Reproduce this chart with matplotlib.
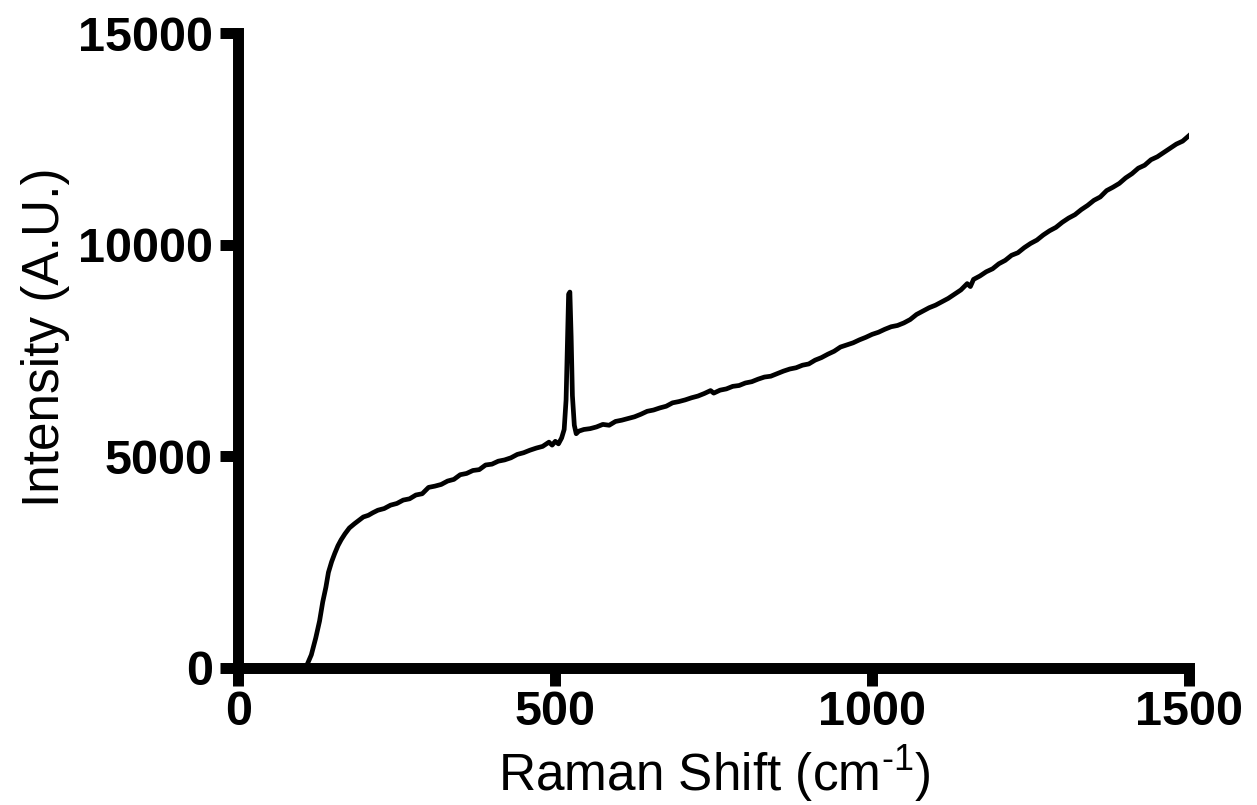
import matplotlib
matplotlib.use("Agg")
import matplotlib.pyplot as plt

# ラマンスペクトル
raman_shift = [
    100, 107, 115, 122, 128, 133, 138, 142, 147, 152, 157, 162, 168, 175, 183, 190,
    197, 205, 212, 220, 230, 240, 250, 260, 270, 280, 290, 300, 310, 320, 330, 340,
    350, 360, 370, 380, 390, 400, 410, 420, 430, 440, 450, 460, 470, 480, 490, 495,
    500, 505, 510, 514, 517, 519, 521, 523, 525, 527, 530, 533, 537, 545, 555, 565,
    575, 585, 595, 605, 615, 625, 635, 645, 655, 665, 675, 685, 695, 705, 715, 725,
    735, 745, 750, 760, 770, 780, 790, 800, 810, 820, 830, 840, 850, 860, 870, 880,
    890, 900, 910, 920, 930, 940, 950, 960, 970, 980, 990, 1000, 1010, 1020, 1030,
    1040, 1050, 1060, 1070, 1080, 1090, 1100, 1110, 1120, 1130, 1140, 1150, 1155,
    1160, 1170, 1180, 1190, 1200, 1210, 1220, 1230, 1240, 1250, 1260, 1270, 1280,
    1290, 1300, 1310, 1320, 1330, 1340, 1350, 1360, 1370, 1380, 1390, 1400, 1410,
    1420, 1430, 1440, 1450, 1460, 1470, 1480, 1490, 1500,
]
intensity = [
    0, 20, 300, 700, 1100, 1550, 1900, 2250, 2500, 2700, 2880, 3020, 3160, 3300, 3400, 3480,
    3560, 3600, 3660, 3720, 3760, 3840, 3880, 3960, 3990, 4080, 4110, 4260, 4290, 4330, 4410, 4450,
    4560, 4590, 4660, 4680, 4790, 4810, 4880, 4910, 4960, 5040, 5080, 5140, 5190, 5230, 5330, 5260,
    5350, 5290, 5430, 5630, 6330, 7630, 8830, 8880, 7830, 6430, 5730, 5530, 5590, 5630, 5650, 5690,
    5750, 5730, 5820, 5850, 5890, 5930, 5990, 6060, 6090, 6140, 6180, 6260, 6290, 6330, 6380, 6420,
    6480, 6550, 6490, 6560, 6590, 6650, 6670, 6730, 6760, 6820, 6870, 6890, 6950, 7010, 7060, 7090,
    7150, 7180, 7270, 7330, 7410, 7480, 7580, 7630, 7680, 7750, 7810, 7880, 7930, 8000, 8060,
    8090, 8150, 8230, 8350, 8430, 8510, 8570, 8650, 8730, 8830, 8930, 9080, 9010,
    9180, 9260, 9360, 9430, 9550, 9630, 9750, 9810, 9930, 10030, 10110, 10230, 10330,
    10410, 10530, 10630, 10710, 10830, 10930, 11050, 11130, 11280, 11360, 11450, 11580, 11680,
    11810, 11880, 12010, 12080, 12180, 12280, 12380, 12450, 12580,
]
x_ticks = [0, 500, 1000, 1500]
y_ticks = [0, 5000, 10000, 15000]

plt.rcParams["font.family"] = ["Liberation Sans", "DejaVu Sans"]
plt.rcParams["mathtext.fontset"] = "custom"
plt.rcParams["mathtext.rm"] = "Liberation Sans"

fig = plt.figure(figsize=(12.57, 8.05), dpi=100)
ax = fig.add_axes([0.1897, 0.1708, 0.7562, 0.7878])

ax.plot(raman_shift, intensity, color="black", linewidth=3.4)

ax.set_xlim(0, 1500)
ax.set_ylim(0, 15000)
ax.set_xticks(x_ticks)
ax.set_yticks(y_ticks)

for side in ["top", "right"]:
    ax.spines[side].set_visible(False)
for side in ["left", "bottom"]:
    ax.spines[side].set_linewidth(7.9)
    ax.spines[side].set_capstyle("projecting")

ax.tick_params(axis="both", length=13.3, width=7.9, direction="out", labelsize=35)
ax.tick_params(axis="x", pad=3)
ax.tick_params(axis="y", pad=5)
for lbl in ax.get_xticklabels() + ax.get_yticklabels():
    lbl.set_fontweight("bold")

ax.set_xlabel(r"Raman Shift (cm$^{\text{-1}}$)", fontsize=37, labelpad=6)
ax.set_ylabel("Intensity (A.U.)", fontsize=37)
ax.yaxis.set_label_coords(-0.177, 0.52)

fig.savefig("out.png", dpi=100)
